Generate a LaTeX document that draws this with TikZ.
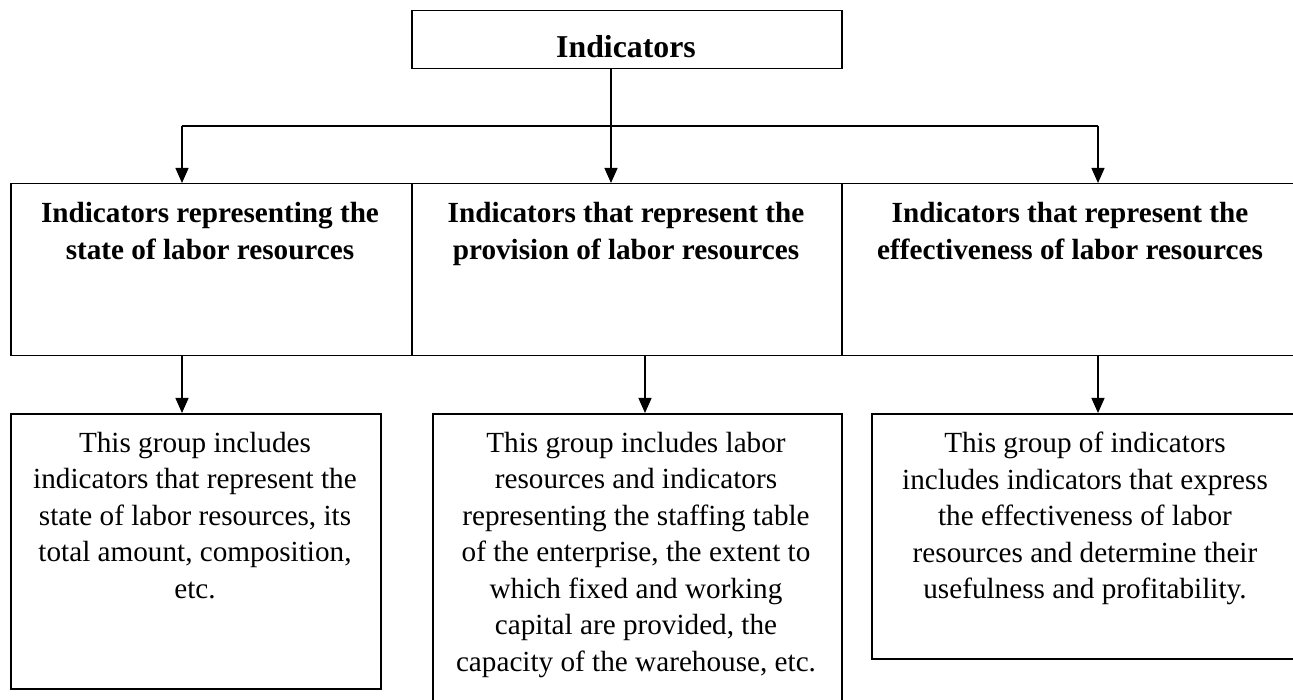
\documentclass[tikz,border=0pt]{standalone}
\usepackage{fontspec}
\setmainfont{Liberation Serif}
\usetikzlibrary{arrows.meta}
\begin{document}
\begin{tikzpicture}[x=1pt,y=-1pt,
  box/.style={draw, line width=1.5pt, rectangle, inner sep=0pt, anchor=north west},
  body/.style={align=center, inner sep=0pt, anchor=north,
    font=\fontsize{29.2}{36.5}\selectfont,
    execute at begin node={\rule{0pt}{25pt}}},
  head/.style={body, font=\fontsize{29.2}{37.5}\selectfont\bfseries},
  title/.style={inner sep=0pt, anchor=base, font=\fontsize{31.8}{38}\selectfont\bfseries},
  wire/.style={line width=1.3pt},
  link/.style={wire, -{Triangle[length=15pt,width=13pt]}},
]
\path[use as bounding box, clip] (0,0) rectangle (1293,700);
\fill[white] (0,0) rectangle (1293,700);

% top box
\node[box, minimum width=430pt, minimum height=58pt] (top) at (411,10) {};
\node[title] (toptxt) at (626,58) {Indicators};

% first row of category boxes
\node[box, minimum width=401pt, minimum height=172pt] (catA) at (10,183) {};
\node[box, minimum width=430pt, minimum height=172pt] (catB) at (411,183) {};
\node[box, minimum width=459pt, minimum height=172pt] (catC) at (841,183) {};
\node[head] (catAtxt) at (210,202) {Indicators representing the\\state of labor resources};
\node[head] (catBtxt) at (626,202) {Indicators that represent the\\provision of labor resources};
\node[head] (catCtxt) at (1070,202) {Indicators that represent the\\effectiveness of labor resources};

% second row of description boxes
\node[box, minimum width=370pt, minimum height=275pt] (descA) at (10,413) {};
\node[box, minimum width=409pt, minimum height=300pt] (descB) at (432,413) {};
\node[box, minimum width=429pt, minimum height=245pt] (descC) at (871,413) {};
\node[body] (descAtxt) at (195,432) {This group includes\\indicators that represent the\\state of labor resources, its\\total amount, composition,\\etc.};
\node[body] (descBtxt) at (636,432) {This group includes labor\\resources and indicators\\representing the staffing table\\of the enterprise, the extent to\\which fixed and working\\capital are provided, the\\capacity of the warehouse, etc.};
\node[body] (descCtxt) at (1085,432) {This group of indicators\\includes indicators that express\\the effectiveness of labor\\resources and determine their\\usefulness and profitability.};

% distribution bus from the top box
\coordinate (busL) at (182,126);
\coordinate (busM) at (611,126);
\coordinate (busR) at (1098,126);
\coordinate (stem) at (611,68);
\draw[wire] (stem) -- (busM);
\draw[wire] (busL) -- (busR);
\draw[link] (busL) -- (busL |- catA.north);
\draw[link] (busM) -- (busM |- catB.north);
\draw[link] (busR) -- (busR |- catC.north);

% links from categories to descriptions
\coordinate (dropA) at (182,355);
\coordinate (dropB) at (645,355);
\coordinate (dropC) at (1098,355);
\draw[link] (dropA) -- (dropA |- descA.north);
\draw[link] (dropB) -- (dropB |- descB.north);
\draw[link] (dropC) -- (dropC |- descC.north);
\end{tikzpicture}
\end{document}
